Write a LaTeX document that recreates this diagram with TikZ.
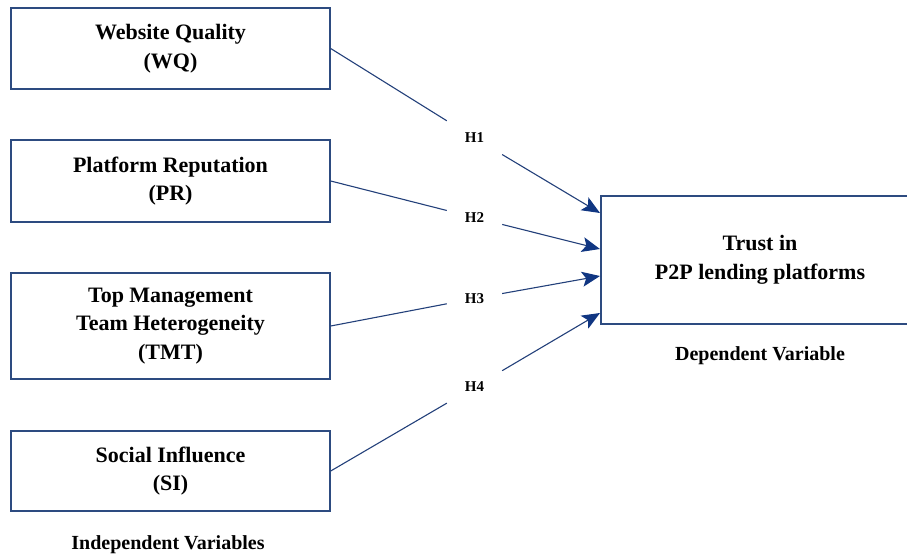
\documentclass[tikz,border=0pt]{standalone}
\usepackage{fontspec}
\setmainfont{Liberation Serif}
\usetikzlibrary{arrows.meta,calc}
\definecolor{boxblue}{RGB}{45,75,128}
\definecolor{linkblue}{RGB}{35,64,122}
\definecolor{tipblue}{RGB}{16,54,130}
\begin{document}
\begin{tikzpicture}[x=1pt,y=-1pt,
  varbox/.style={draw=boxblue,line width=1.4pt,fill=white,align=center,inner sep=0pt,
    font=\fontsize{22}{28.5}\selectfont\bfseries,minimum width=319pt},
  hyp/.style={rectangle,minimum width=55pt,minimum height=38pt,inner sep=0pt,
    font=\fontsize{15}{18}\selectfont\bfseries},
  conn/.style={draw=linkblue,line width=1.1pt},
  arr/.style={conn,-{Stealth[length=18pt,width=15pt,inset=4pt,color=tipblue]}},
  caption/.style={font=\fontsize{20}{24}\selectfont\bfseries}]
\useasboundingbox (0,0) rectangle (907,557);
\clip (0,0) rectangle (907,557);
% independent variable boxes
\node[varbox,minimum height=81pt] (WQ) at (170.5,48.5) {Website Quality\\(WQ)};
\node[varbox,minimum height=82pt] (PR) at (170.5,181) {Platform Reputation\\(PR)};
\node[varbox,minimum height=106pt] (TMT) at (170.5,326) {Top Management\\Team Heterogeneity\\(TMT)};
\node[varbox,minimum height=80pt] (SI) at (170.5,471) {Social Influence\\(SI)};
% dependent variable box
\node[varbox,minimum width=318pt,minimum height=128pt] (T) at (760,260) {Trust in\\P2P lending platforms};
% hypothesis labels
\node[hyp] (H1) at (474.5,138) {H1};
\node[hyp] (H2) at (474.5,217.5) {H2};
\node[hyp] (H3) at (474.5,298.5) {H3};
\node[hyp] (H4) at (474.5,387) {H4};
% arrow targets on the left side of the dependent box
\coordinate (t1) at (600,213);
\coordinate (t2) at (600,249);
\coordinate (t3) at (600,276);
\coordinate (t4) at (600,313);
% connectors
\draw[conn] (WQ.east) -- (H1);
\draw[arr] (H1) -- (t1);
\draw[conn] (PR.east) -- (H2);
\draw[arr] (H2) -- (t2);
\draw[conn] (TMT.east) -- (H3);
\draw[arr] (H3) -- (t3);
\draw[conn] (SI.east) -- (H4);
\draw[arr] (H4) -- (t4);
% captions
\node[caption] (IV) at (168,545) {Independent Variables};
\node[caption] (DV) at (760,356) {Dependent Variable};
\end{tikzpicture}
\end{document}
